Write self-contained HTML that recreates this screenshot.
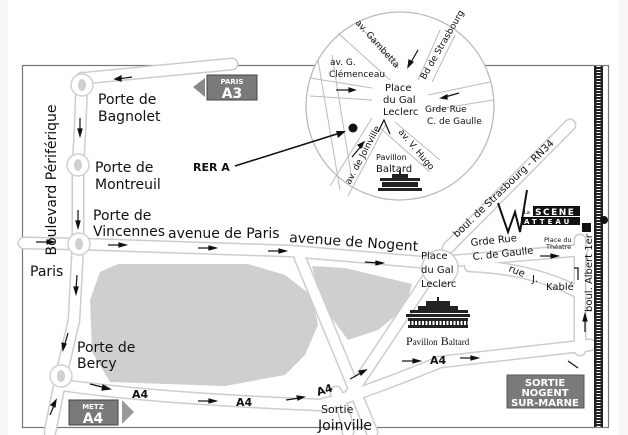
<!DOCTYPE html>
<html><head><meta charset="utf-8"><style>
html,body{margin:0;padding:0;background:#fff}
svg{display:block}
text{font-family:"DejaVu Sans","Liberation Sans",sans-serif;fill:#111}
</style></head><body>
<svg width="628" height="435" viewBox="0 0 628 435" xmlns="http://www.w3.org/2000/svg">
<rect x="0" y="0" width="628" height="435" fill="#fff"/>
<rect x="0" y="0" width="8" height="435" fill="#fbf6f6"/>
<rect x="618" y="0" width="10" height="435" fill="#fbf6f6"/>
<rect x="22.5" y="65.5" width="586" height="362" fill="#fff" stroke="#777" stroke-width="1.2"/>
<polygon points="118,264 248,264 285,275 312,296 318,325 305,355 285,375 225,386 110,382 92,352 90,300 100,272" fill="#cfcfcf"/>
<polygon points="312,266 345,268 412,284 405,308 378,330 348,340 322,305" fill="#cfcfcf"/>
<g fill="none" stroke="#cdcdcd" stroke-width="13" stroke-linecap="round" stroke-linejoin="round">
<path d="M82,78 L80,130 L78,165 L78,244 L74,320 L62,372 L50,432"/>
<path d="M86,78 L232,64"/>
<path d="M24,243 L80,244 L290,251 L420,262 L440,262"/>
<path d="M440,262 L560,252 L582,250"/>
<path d="M470,266 Q530,268 578,292"/>
<path d="M580,240 L580,350"/>
<path d="M448,248 L570,125"/>
<path d="M62,385 Q150,398 320,405 Q360,395 440,362 L590,345"/>
<path d="M430,275 L350,395"/>
<path d="M300,258 L372,432"/>
<path d="M336,392 Q345,410 348,432"/>
</g>
<g fill="none" stroke="#fff" stroke-width="10" stroke-linecap="round" stroke-linejoin="round">
<path d="M82,78 L80,130 L78,165 L78,244 L74,320 L62,372 L50,432"/>
<path d="M86,78 L232,64"/>
<path d="M24,243 L80,244 L290,251 L420,262 L440,262"/>
<path d="M440,262 L560,252 L582,250"/>
<path d="M470,266 Q530,268 578,292"/>
<path d="M580,240 L580,350"/>
<path d="M448,248 L570,125"/>
<path d="M62,385 Q150,398 320,405 Q360,395 440,362 L590,345"/>
<path d="M430,275 L350,395"/>
<path d="M300,258 L372,432"/>
<path d="M336,392 Q345,410 348,432"/>
</g>
<circle cx="440" cy="268" r="18" fill="#fff" stroke="#cdcdcd" stroke-width="1.5"/>
<g fill="#fff" stroke="#d0d0d0" stroke-width="1.5">
<circle cx="82" cy="85" r="11"/><circle cx="78" cy="165" r="11"/><circle cx="79" cy="244" r="11"/><circle cx="61" cy="376" r="11"/>
</g>
<g fill="#d0d0d0"><ellipse cx="82" cy="85" rx="4" ry="6"/><ellipse cx="78" cy="165" rx="4" ry="6"/><ellipse cx="79" cy="244" rx="4" ry="6"/><ellipse cx="61" cy="376" rx="4" ry="6"/></g>
<rect x="594" y="66" width="9" height="361" fill="#222"/>
<line x1="598.5" y1="66" x2="598.5" y2="427" stroke="#fff" stroke-width="4" stroke-dasharray="1 2"/>
<circle cx="604" cy="220" r="4" fill="#111"/>
<rect x="582" y="223" width="9" height="9" fill="#111"/>
<circle cx="400" cy="106" r="94" fill="#fff" stroke="#bbb" stroke-width="1.3"/>
<g fill="none" stroke="#bbb" stroke-width="1">
<path d="M338,33 L390,80"/><path d="M358,24 L398,68"/>
<path d="M440,30 L418,80"/><path d="M455,35 L432,82"/>
<path d="M310,78 L372,88"/><path d="M310,96 L372,100"/>
<path d="M432,110 L493,100"/><path d="M428,95 L490,82"/>
<path d="M395,122 L440,160"/><path d="M380,128 L430,172"/>
<path d="M372,118 L330,186"/><path d="M386,124 L348,196"/>
<path d="M318,60 L340,190"/><path d="M332,55 L352,180"/>
</g>
<circle cx="353" cy="128" r="4.5" fill="#111"/>
<g stroke="#111" stroke-width="1.2" fill="#111">
<line x1="336" y1="90" x2="352" y2="90"/><polygon points="355,90 349,88 349,92"/>
<line x1="418" y1="50" x2="410" y2="64"/><polygon points="408,67 409,60 413,62"/>
<line x1="459" y1="93" x2="445" y2="97"/><polygon points="441,98 447,95 447,99"/>
<line x1="352" y1="157" x2="362" y2="145"/><polygon points="364,142 358,145 361,148"/>
<polyline points="378,132 384,120 390,134" fill="none"/>
</g>
<g font-size="9">
<text x="355" y="23" transform="rotate(48 355 23)">av. Gambetta</text>
<text x="425" y="80" transform="rotate(-60 425 80)">Bd de Strasbourg</text>
<text x="330" y="65">av. G.</text><text x="329" y="77">Clémenceau</text>
<text x="385" y="91" font-size="10">Place</text><text x="383" y="103" font-size="10">du Gal</text><text x="383" y="115" font-size="10">Leclerc</text>
<text x="425" y="112">Grde Rue</text><text x="427" y="124">C. de Gaulle</text>
<text x="398" y="132" transform="rotate(50 398 132)">av. V. Hugo</text>
<text x="350" y="185" transform="rotate(-62 350 185)">av. de Joinville</text>
<text x="376" y="160" font-size="8">Pavillon</text><text x="376" y="172" font-size="10">Baltard</text>
</g>
<g fill="#222"><rect x="380" y="178" width="40" height="3"/><rect x="382" y="182" width="36" height="5"/><rect x="378" y="188" width="44" height="3"/><rect x="392" y="174" width="16" height="4"/><rect x="399" y="170" width="2" height="4"/></g>
<text x="193" y="171" font-size="11" font-weight="bold">RER A</text>
<line x1="235" y1="166" x2="340" y2="133" stroke="#111" stroke-width="1.6"/>
<polygon points="346,131 336,131 338,138" fill="#111"/>
<polygon points="193,87 205,78 205,97" fill="#888"/>
<rect x="207" y="75" width="50" height="25" fill="#7a7a7a" stroke="#444"/>
<text x="232" y="84" font-size="7" font-weight="bold" text-anchor="middle" style="fill:#fff">PARIS</text>
<text x="232" y="98" font-size="14" font-weight="bold" text-anchor="middle" style="fill:#fff">A3</text>
<rect x="69" y="400" width="49" height="25" fill="#7a7a7a" stroke="#444"/>
<polygon points="122,400 134,412 122,424" fill="#999"/>
<text x="93" y="409" font-size="7" font-weight="bold" text-anchor="middle" style="fill:#fff">METZ</text>
<text x="93" y="423" font-size="14" font-weight="bold" text-anchor="middle" style="fill:#fff">A4</text>
<rect x="507" y="375" width="77" height="33" fill="#7a7a7a" stroke="#555"/>
<g font-size="10" font-weight="bold" text-anchor="middle">
<text x="545" y="386" style="fill:#fff">SORTIE</text><text x="545" y="396" style="fill:#fff">NOGENT</text><text x="545" y="406" style="fill:#fff">SUR-MARNE</text></g>
<g stroke="#111" stroke-width="1.2" fill="#111">
<line x1="118" y1="79" x2="132" y2="77"/><polygon points="115,79 121,76 121,81"/>
<line x1="80" y1="118" x2="80" y2="132"/><polygon points="80,136 78,129 82,129"/>
<line x1="78" y1="210" x2="78" y2="224"/><polygon points="78,228 76,221 80,221"/>
<line x1="36" y1="242" x2="50" y2="242"/><polygon points="54,242 47,240 47,244"/>
<line x1="108" y1="245" x2="122" y2="245"/><polygon points="126,245 119,243 119,247"/>
<line x1="198" y1="248" x2="212" y2="248"/><polygon points="216,248 209,246 209,250"/>
<line x1="268" y1="251" x2="282" y2="251"/><polygon points="286,251 279,249 279,253"/>
<line x1="365" y1="262" x2="379" y2="263"/><polygon points="383,263 376,261 376,265"/>
<line x1="77" y1="275" x2="76" y2="290"/><polygon points="76,294 74,287 78,287"/>
<line x1="68" y1="333" x2="64" y2="347"/><polygon points="63,350 62,343 66,344"/>
<line x1="90" y1="384" x2="106" y2="388"/><polygon points="110,389 103,385 102,390"/>
<line x1="198" y1="401" x2="212" y2="401"/><polygon points="216,401 209,399 209,403"/>
<line x1="286" y1="400" x2="300" y2="398"/><polygon points="304,397 297,396 298,400"/>
<line x1="50" y1="415" x2="55" y2="403"/><polygon points="56,400 51,405 55,407"/>
<line x1="350" y1="379" x2="363" y2="372"/><polygon points="366,370 359,371 361,375"/>
<line x1="402" y1="361" x2="416" y2="361"/><polygon points="420,361 413,359 413,363"/>
<line x1="460" y1="358" x2="474" y2="358"/><polygon points="478,358 471,356 471,360"/>
<line x1="540" y1="256" x2="554" y2="256"/><polygon points="558,256 551,254 551,258"/>
<line x1="585" y1="332" x2="585" y2="318"/><polygon points="585,314 583,321 587,321"/>
<line x1="568" y1="361" x2="578" y2="368" fill="none"/>
<polyline points="574,268 578,268 578,280" fill="none"/>
</g>
<text x="56" y="180" font-size="14" transform="rotate(-90 56 180)" text-anchor="middle">Boulevard Périférique</text>
<g font-size="14">
<text x="98" y="104">Porte de</text><text x="98" y="121">Bagnolet</text>
<text x="95" y="172">Porte de</text><text x="95" y="189">Montreuil</text>
<text x="93" y="220">Porte de</text><text x="93" y="236">Vincennes</text>
<text x="168" y="238">avenue de Paris</text>
<text x="289" y="242" transform="rotate(4 289 242)">avenue de Nogent</text>
<text x="30" y="276">Paris</text>
<text x="77" y="352">Porte de</text><text x="77" y="368">Bercy</text>
<text x="318" y="430">Joinville</text>
</g>
<text x="321" y="413" font-size="11">Sortie</text>
<g font-size="11" font-weight="bold">
<text x="132" y="398">A4</text><text x="236" y="406">A4</text>
<text x="318" y="396" transform="rotate(-18 318 396)">A4</text><text x="430" y="364">A4</text>
</g>
<g font-size="10">
<text x="421" y="259">Place</text><text x="421" y="273">du Gal</text><text x="421" y="287">Leclerc</text>
<text x="471" y="246" transform="rotate(-6 471 246)">Grde Rue</text><text x="473" y="260" transform="rotate(-6 473 260)">C. de Gaulle</text>
<text x="508" y="271" transform="rotate(22 508 271)">rue</text><text x="532" y="282">J.</text><text x="546" y="290">Kablé</text>
<text x="592" y="312" transform="rotate(-90 592 312)">boul. Albert 1er</text>
<text x="457" y="238" transform="rotate(-44 457 238)">boul. de Strasbourg - RN34</text>
</g>
<text x="544" y="242" font-size="6.5">Place du</text><text x="546" y="249" font-size="6.5">Théatre</text>
<g fill="#222">
<rect x="437" y="297" width="2" height="4"/><rect x="426" y="301" width="24" height="5"/>
<rect x="418" y="306" width="40" height="4"/><rect x="410" y="310" width="58" height="3"/>
<rect x="406" y="314" width="64" height="3"/>
<rect x="408" y="318" width="60" height="10"/>
</g>
<line x1="408" y1="323" x2="468" y2="323" stroke="#fff" stroke-width="4" stroke-dasharray="2 1.5"/>
<text x="406" y="345" font-size="12" style="font-family:'Liberation Serif',serif">P<tspan font-size="9">avillon</tspan> B<tspan font-size="9">altard</tspan></text>
<path d="M498,203 L508,232 L515,212 L520,232 L527,190" fill="none" stroke="#111" stroke-width="2"/>
<text x="524" y="214" font-size="5">La</text>
<rect x="533" y="206" width="47" height="10" fill="#111"/>
<text x="535" y="215" font-size="9" font-weight="bold" letter-spacing="1.5" style="fill:#fff">SCENE</text>
<rect x="521" y="217" width="59" height="8" fill="#111"/>
<text x="524" y="224" font-size="7" font-weight="bold" letter-spacing="3" style="fill:#fff">ATTEAU</text>
</svg>
</body></html>
